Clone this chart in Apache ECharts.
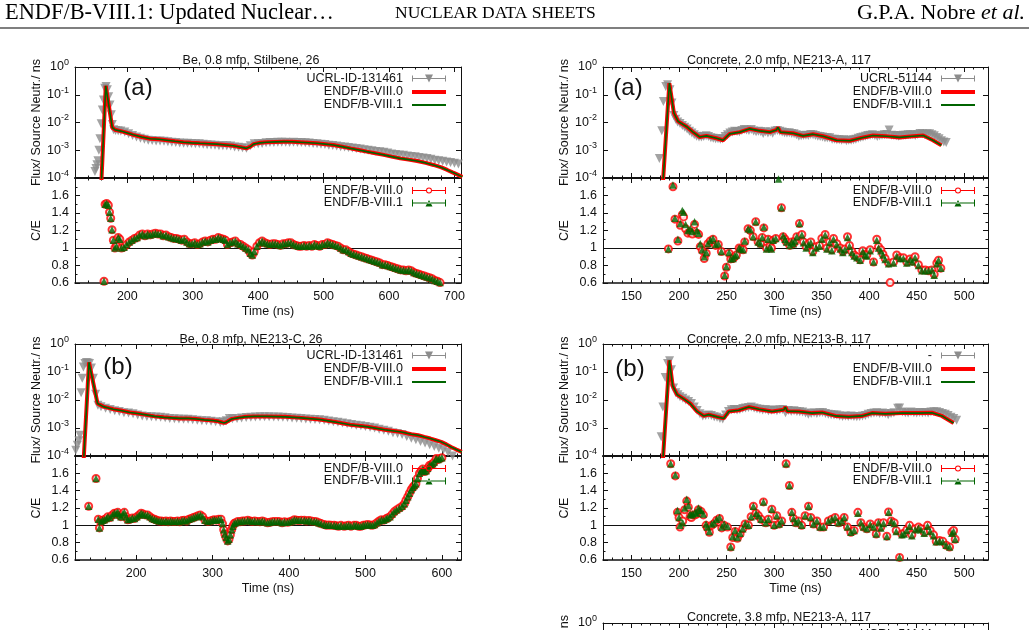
<!DOCTYPE html>
<html lang="en">
<head>
<meta charset="UTF-8">
<title>ENDF/B-VIII.1 neutron time-of-flight benchmarks</title>
<style>
  * { margin: 0; padding: 0; }
  body { background: #fff; }
  #chart { width: 1029px; height: 630px; }
</style>
</head>
<body>
<div id="chart"></div>
<script src="https://cdn.jsdelivr.net/npm/echarts@6.0.0/dist/echarts.min.js"></script>
<script>
// ---------------- data: [time (ns), value] ----------------
// Be, 0.8 mfp, Stilbene
const beStilExp = [[150.5,1.7e-4],[152,2.2e-4],[153.5,3.0e-4],[155,4.2e-4],[156.5,1.0e-3],[158,2.6e-3],[160,9e-3],[161.8,0.028],[163.5,0.065],[165.5,0.17],[167.5,0.2],[169.5,0.15],[171.5,0.085],[173.5,0.043],[175.5,0.019],[177,0.0085],[179,0.0055],[182,0.0052],[186,0.005],[190,0.0049],[196,0.0045],[202,0.0039],[208,0.0034],[214,0.003],[220,0.0027],[226,0.0025],[232,0.0023],[238,0.00224],[244,0.00214],[250,0.00215],[256,0.0021],[262,0.00204],[268,0.00196],[274,0.00189],[280,0.00182],[286,0.00179],[292,0.00178],[298,0.00176],[304,0.00172],[310,0.0017],[316,0.00164],[322,0.00159],[328,0.00156],[334,0.00152],[340,0.00146],[346,0.00144],[352,0.00146],[358,0.00141],[364,0.00132],[370,0.00129],[376,0.00124],[382,0.00117],[388,0.00145],[394,0.00173],[400,0.0017],[406,0.00174],[412,0.00186],[418,0.00189],[424,0.0019],[430,0.00193],[436,0.00193],[442,0.00194],[448,0.00192],[454,0.00193],[460,0.00191],[466,0.0019],[472,0.00187],[478,0.00181],[484,0.00175],[490,0.00173],[496,0.00165],[502,0.00161],[508,0.00152],[514,0.00149],[520,0.00141],[526,0.00135],[532,0.00132],[538,0.00126],[544,0.00121],[550,0.00115],[556,0.0011],[562,0.00105],[568,0.00101],[574,0.00096],[580,0.00091],[586,0.00088],[592,0.00084],[598,0.00079],[604,0.00074],[610,0.0007],[616,0.00068],[622,0.00066],[628,0.00062],[634,0.0006],[640,0.00058],[646,0.00055],[652,0.00053],[658,0.0005],[664,0.00047],[670,0.00044],[676,0.00042],[682,0.0004],[688,0.00038],[694,0.00036],[700,0.00034],[706,0.00032]];
const beStilCalc80 = [[160,5e-5],[167,0.21],[177,0.0065],[181,0.0055],[190,0.0049],[200,0.0042],[209,0.0036],[222,0.003],[235,0.0026],[248,0.0025],[260,0.0023],[273,0.0021],[286,0.00195],[298,0.00185],[311,0.00178],[324,0.00172],[337,0.00166],[350,0.00155],[362,0.00145],[372,0.0013],[382,0.00117],[388,0.00135],[393,0.00166],[403,0.00185],[413,0.00195],[426,0.002],[439,0.00204],[452,0.00202],[464,0.00195],[477,0.00187],[490,0.00178],[503,0.00166],[515,0.00155],[528,0.00135],[541,0.00117],[554,0.00102],[566,0.00089],[579,0.00078],[592,0.00068],[604,0.00059],[617,0.00051],[630,0.00046],[643,0.00041],[656,0.00035],[668,0.000295],[680,0.00024],[689,0.000195],[697,0.00016],[704,0.000135],[712,0.00011]];
const beStilCalc81 = beStilCalc80; // the two evaluations overlap at this scale
const beStilCE80 = [[164.3,0.62],[166,1.5],[168.5,1.51],[171,1.49],[172.8,1.41],[174.6,1.34],[176.6,1.21],[178.6,1.09],[181,1.0],[183.5,1.02],[186,1.12],[188.5,1.1],[191,1.0],[195,1.01],[199,1.04],[203,1.07],[207,1.09],[211,1.11],[215,1.12],[219,1.15],[223,1.16],[227,1.14],[231,1.16],[235,1.15],[239,1.16],[243,1.17],[247,1.16],[251,1.16],[255,1.14],[259,1.15],[263,1.13],[267,1.12],[271,1.11],[275,1.11],[279,1.1],[283,1.09],[287,1.1],[291,1.07],[295,1.05],[299,1.05],[303,1.06],[307,1.04],[311,1.05],[315,1.07],[319,1.08],[323,1.07],[327,1.09],[331,1.1],[335,1.1],[339,1.12],[343,1.11],[347,1.1],[350,1.09],[353,1.04],[357,1.06],[361,1.07],[365,1.08],[369,1.05],[373,1.04],[377,1.02],[381,1.0],[385,0.98],[388,0.94],[391,0.92],[394,0.96],[398,1.02],[402,1.06],[406,1.08],[410,1.06],[414,1.05],[418,1.04],[422,1.05],[426,1.05],[430,1.04],[434,1.03],[438,1.05],[442,1.05],[446,1.06],[450,1.06],[454,1.04],[458,1.03],[462,1.02],[466,1.02],[470,1.03],[474,1.02],[478,1.03],[482,1.02],[486,1.04],[490,1.03],[494,1.02],[498,1.04],[502,1.04],[506,1.06],[510,1.05],[514,1.04],[518,1.03],[522,1.02],[526,1.0],[530,0.98],[534,0.98],[538,0.96],[542,0.94],[546,0.93],[550,0.92],[554,0.91],[558,0.9],[562,0.89],[566,0.88],[570,0.87],[574,0.86],[578,0.85],[582,0.84],[586,0.83],[590,0.81],[594,0.81],[598,0.8],[602,0.79],[606,0.78],[610,0.77],[614,0.76],[618,0.75],[622,0.75],[626,0.74],[630,0.75],[634,0.74],[638,0.72],[642,0.71],[646,0.7],[650,0.69],[654,0.68],[658,0.67],[662,0.66],[666,0.65],[670,0.63],[674,0.62],[678,0.605]];
const beStilCE81 = beStilCE80;

// Be, 0.8 mfp, NE213-C
const beNeExp = [[121,1.6e-4],[123,2.4e-4],[125,3.5e-4],[126.5,5.5e-4],[128,0.018],[129.5,0.06],[131,0.15],[133,0.2],[135,0.22],[137,0.21],[139,0.2],[141.5,0.14],[144,0.06],[147,0.016],[150,0.0065],[154,0.0057],[160,0.0051],[166,0.0046],[172,0.0041],[178,0.0039],[184,0.0035],[190,0.0034],[196,0.0032],[202,0.0029],[208,0.0027],[214,0.0026],[220,0.0025],[226,0.00245],[232,0.0024],[238,0.0023],[244,0.0022],[250,0.00215],[256,0.0021],[262,0.00207],[268,0.00205],[274,0.00197],[280,0.00189],[286,0.00182],[292,0.00181],[298,0.00175],[304,0.00167],[310,0.00156],[314,0.00166],[318,0.00182],[322,0.0022],[326,0.00214],[332,0.0022],[338,0.00229],[344,0.00236],[350,0.00243],[356,0.00248],[362,0.0025],[368,0.00252],[374,0.0025],[380,0.00248],[386,0.00245],[392,0.00243],[398,0.00238],[404,0.00229],[410,0.00222],[416,0.00217],[422,0.0021],[428,0.00205],[434,0.00202],[440,0.00196],[446,0.00188],[452,0.00178],[458,0.00168],[464,0.0016],[470,0.00152],[476,0.00141],[482,0.00132],[488,0.00126],[494,0.0012],[500,0.00113],[506,0.00106],[512,0.001],[518,0.00091],[524,0.00083],[530,0.00077],[536,0.00068],[542,0.00064],[548,0.00058],[554,0.0005],[560,0.00043],[566,0.00038],[572,0.00033],[578,0.00029],[584,0.00025],[590,0.00022],[596,0.00019],[602,0.000168],[608,0.000135],[614,0.0001]];
const beNeCalc80 = [[131,5e-5],[138.3,0.22],[149.5,0.0075],[157,0.0058],[170,0.0047],[180,0.0042],[192,0.0036],[202,0.0033],[211,0.003],[224,0.0026],[236,0.0024],[246,0.0023],[257,0.0022],[268,0.0022],[279,0.0021],[289,0.00195],[300,0.00185],[307,0.00174],[313,0.00158],[316,0.00152],[320,0.00175],[325,0.0021],[333,0.0023],[342,0.0025],[355,0.0026],[370,0.0026],[395,0.0025],[416,0.0023],[440,0.002],[459,0.00166],[480,0.0013],[503,0.0011],[525,0.00087],[547,0.00072],[560,0.0006],[569,0.00055],[577,0.00048],[585,0.00042],[590,0.00038],[599,0.00032],[606,0.00026],[612,0.00021],[619,0.00017],[626,0.00014]];
const beNeCalc81 = beNeCalc80;
const beNeCE80 = [[137.9,1.22],[147.5,1.54],[150.5,1.07],[152,0.97],[154,1.045],[156,1.06],[158.3,1.065],[161,1.08],[163,1.1],[166,1.09],[169,1.12],[171.5,1.14],[174,1.14],[176,1.15],[178,1.12],[180,1.1],[182.5,1.13],[184.5,1.15],[187,1.1],[189,1.065],[192,1.07],[195,1.085],[198,1.08],[201,1.1],[204,1.12],[206.5,1.14],[209,1.13],[212,1.12],[215,1.12],[218,1.1],[221,1.08],[224,1.07],[227,1.06],[230,1.05],[233,1.05],[236,1.045],[239,1.05],[242,1.04],[245,1.05],[248,1.045],[251,1.045],[254,1.05],[257,1.04],[260,1.055],[263,1.06],[266,1.05],[269,1.07],[272,1.08],[275,1.09],[278,1.1],[281,1.11],[284,1.12],[287,1.1],[290,1.06],[293.7,1.045],[297,1.05],[300,1.06],[302.4,1.065],[305,1.06],[308,1.07],[311,1.07],[313,1.02],[314.5,0.95],[316,0.9],[317.6,0.86],[319.8,0.82],[321.5,0.84],[323.3,0.89],[325,0.95],[326.4,0.99],[328,1.02],[330,1.03],[333,1.045],[336,1.04],[339,1.05],[342,1.05],[346,1.06],[349,1.05],[352,1.045],[355,1.05],[359,1.045],[362,1.04],[365,1.05],[368,1.04],[372,1.03],[375,1.035],[378,1.04],[381,1.045],[385,1.045],[388,1.04],[391,1.03],[394,1.04],[398,1.035],[401,1.04],[404,1.05],[407,1.065],[410,1.06],[413,1.055],[416,1.06],[420,1.06],[423,1.05],[426,1.055],[429,1.05],[433,1.045],[436,1.04],[439,1.03],[442,1.02],[446,1.01],[449,1.0],[452,1.005],[455,1.0],[459,1.0],[462,0.995],[465,0.99],[468,1.0],[472,0.99],[475,0.995],[478,1.0],[481,0.99],[485,1.0],[488,1.0],[491,0.99],[494,0.99],[497,1.0],[500,1.005],[503,1.01],[506,1.005],[509,1.0],[512,1.01],[515,1.03],[518,1.05],[521,1.065],[524,1.06],[527,1.075],[529,1.085],[532,1.1],[535,1.13],[538,1.16],[541,1.18],[544.5,1.2],[548,1.22],[551,1.25],[553,1.29],[555.4,1.33],[557.5,1.37],[559.8,1.41],[562,1.44],[564,1.46],[566,1.48],[568,1.54],[570.6,1.6],[573,1.63],[575,1.65],[577,1.62],[579.4,1.63],[581.5,1.66],[583.7,1.69],[586,1.7],[588,1.71],[590,1.73],[592.5,1.77],[595,1.76],[597,1.77],[600,1.78]];
const beNeCE81 = beNeCE80;

// Concrete, 2.0 mfp, NE213-A
const conAExp = [[179.3,5e-4],[181.8,0.005],[183.5,0.057],[186,0.2],[188,0.23],[190.5,0.15],[192.5,0.05],[194.5,0.018],[196.5,0.013],[198.5,0.0105],[201,0.0092],[203.5,0.0078],[206,0.0068],[208.5,0.0058],[211,0.0048],[213.5,0.0042],[216,0.0036],[218.5,0.0032],[221,0.003],[223.5,0.003],[226,0.0031],[228.5,0.0033],[231,0.0031],[233.5,0.0028],[236,0.0027],[238.5,0.0026],[241,0.0026],[243.5,0.0025],[246,0.0026],[248.5,0.0031],[251,0.0036],[253.5,0.0042],[256,0.0045],[258.5,0.0048],[261,0.0047],[263.5,0.0046],[266,0.0052],[268.5,0.0056],[271,0.0054],[273.5,0.0052],[276,0.0056],[278.5,0.0049],[281,0.0046],[283.5,0.0048],[286,0.0046],[288.5,0.004],[291,0.0046],[293.5,0.0042],[296,0.0045],[298.5,0.0041],[301,0.0049],[303.5,0.0052],[306,0.0048],[308.5,0.0045],[311,0.0043],[313.5,0.0042],[316,0.0043],[318.5,0.004],[321,0.0039],[323.5,0.0036],[326,0.0032],[328.5,0.0033],[331,0.0034],[333.5,0.0035],[336,0.0034],[338.5,0.0037],[341,0.0036],[343.5,0.0034],[346,0.0032],[348.5,0.0031],[351,0.003],[353.5,0.0028],[356,0.0028],[358.5,0.0028],[361,0.0025],[363.5,0.0025],[366,0.0024],[368.5,0.0024],[371,0.0023],[373.5,0.0024],[376,0.0022],[378.5,0.0023],[381,0.0023],[383.5,0.0024],[386,0.0025],[388.5,0.0027],[391,0.0029],[393.5,0.003],[396,0.0032],[398.5,0.0034],[401,0.0035],[403.5,0.0036],[406,0.0034],[408.5,0.0031],[411,0.0033],[413.5,0.0035],[416,0.0036],[418.5,0.0037],[421,0.0054],[423.5,0.0035],[426,0.0034],[428.5,0.0033],[431,0.0032],[433.5,0.0034],[436,0.0035],[438.5,0.0035],[441,0.0036],[443.5,0.0036],[446,0.0036],[448.5,0.0034],[451,0.0037],[453.5,0.004],[456,0.0039],[458.5,0.0037],[461,0.0039],[463.5,0.0039],[466,0.0036],[468.5,0.0033],[471,0.0029],[473.5,0.0026],[476,0.0022],[478.5,0.002],[481,0.0019]];
const conACalc80 = [[182.8,5e-5],[189.8,0.26],[194.6,0.022],[199,0.011],[207.7,0.0072],[214.7,0.0045],[221.8,0.003],[228.8,0.0033],[239.3,0.0027],[246.3,0.0023],[253.3,0.0039],[263.9,0.0045],[274.4,0.0059],[284.9,0.005],[295.4,0.0045],[302.5,0.0054],[304,0.0066],[306.7,0.0045],[320,0.0041],[330.5,0.0033],[341,0.0038],[351.6,0.0032],[365.6,0.0023],[379.6,0.0022],[393.7,0.0029],[404,0.0034],[418,0.0032],[432,0.0029],[446,0.0032],[456.8,0.0034],[467,0.0023],[476,0.0015]];
const conACalc81 = conACalc80;
const conACE80 = [[188.8,0.99],[193.6,1.7],[195.7,1.33],[198.8,1.08],[201.3,1.26],[203.4,1.38],[204.8,1.355],[206.9,1.22],[209.3,1.17],[211.8,1.18],[214,1.16],[216.3,1.27],[218.8,1.17],[220.6,1.155],[222.3,1.015],[224.4,0.97],[226.5,0.88],[228.6,0.94],[230.4,1.05],[232.9,1.08],[235.7,1.1],[238.5,1.03],[241.3,1.04],[244.5,0.96],[248,0.68],[249.8,0.78],[252.6,0.94],[254.4,0.875],[256.8,0.88],[258.5,0.9],[260.3,0.92],[263.2,1.0],[265,0.99],[267.4,0.98],[269.1,1.07],[272.6,1.22],[275,1.2],[277.9,1.13],[280.7,1.3],[283.2,1.07],[285.7,1.05],[287.5,1.12],[289.2,1.23],[292,1.0],[293.7,1.1],[295.5,1.02],[297.2,1.0],[299,1.09],[301.8,1.11],[307.7,1.46],[309.5,1.13],[311.5,1.1],[313,1.07],[316.5,1.03],[318.6,1.07],[320.3,1.05],[322,1.08],[323.9,1.13],[326.7,1.28],[329.2,1.155],[330.9,1.07],[333.7,1.015],[336.2,1.05],[338.6,1.07],[340.7,0.96],[344.2,1.015],[347.7,1.03],[350.2,1.11],[353.7,1.155],[355.5,1.0],[358.3,1.07],[360.7,0.98],[362.5,1.11],[366,1.05],[369.5,1.0],[372.3,0.96],[374.5,0.99],[377.2,1.13],[379.3,1.03],[381.8,0.96],[384.2,0.92],[387,0.9],[390.5,0.865],[393.3,0.97],[395.5,0.93],[397.5,0.92],[401,0.98],[404.6,0.84],[408,1.1],[409.8,1.015],[412.3,0.98],[414.5,0.93],[416.8,0.88],[420.4,0.83],[422,0.605],[425.6,0.84],[429,0.92],[432.6,0.89],[436,0.89],[439.6,0.84],[443,0.875],[445.5,0.85],[448.3,0.9],[451.8,0.81],[455.4,0.75],[458.9,0.75],[462.5,0.74],[466,0.75],[468.4,0.7],[471.2,0.83],[473,0.86],[475.4,0.77]];
const conACE81 = [[188.8,0.99],[193.6,1.72],[195.7,1.34],[198.8,1.1],[201.3,1.28],[203.4,1.43],[204.8,1.41],[206.9,1.27],[209.3,1.2],[211.8,1.22],[214,1.19],[216.3,1.3],[218.8,1.2],[220.6,1.17],[222.3,1.05],[224.4,0.98],[226.5,0.9],[228.6,0.95],[230.4,1.05],[232.9,1.09],[235.7,1.11],[238.5,1.04],[241.3,1.05],[244.5,0.96],[248,0.69],[249.8,0.79],[252.6,0.95],[254.4,0.875],[256.8,0.88],[258.5,0.91],[260.3,0.92],[263.2,1.0],[265,0.99],[267.4,0.98],[269.1,1.08],[272.6,1.22],[275,1.21],[277.9,1.13],[280.7,1.3],[283.2,1.07],[285.7,1.05],[287.5,1.12],[289.2,1.24],[292,0.99],[293.7,1.1],[295.5,1.01],[297.2,0.99],[299,1.09],[301.8,1.11],[304.6,1.79],[307.7,1.46],[309.5,1.14],[311.5,1.1],[313,1.07],[316.5,1.03],[318.6,1.07],[320.3,1.05],[322,1.08],[323.9,1.13],[326.7,1.28],[329.2,1.15],[330.9,1.06],[333.7,1.0],[336.2,1.04],[338.6,1.06],[340.7,0.95],[344.2,1.0],[347.7,1.02],[350.2,1.1],[353.7,1.15],[355.5,0.99],[358.3,1.06],[360.7,0.97],[362.5,1.1],[366,1.04],[369.5,0.99],[372.3,0.95],[374.5,0.98],[377.2,1.12],[379.3,1.02],[381.8,0.95],[384.2,0.91],[387,0.89],[390.5,0.86],[393.3,0.96],[395.5,0.92],[397.5,0.91],[401,0.97],[404.6,0.84],[408,1.09],[409.8,1.0],[412.3,0.97],[414.5,0.92],[416.8,0.87],[420.4,0.82],[425.6,0.83],[429,0.91],[432.6,0.88],[436,0.88],[439.6,0.83],[443,0.87],[445.5,0.84],[448.3,0.89],[451.8,0.8],[455.4,0.74],[458.9,0.74],[462.5,0.74],[466,0.75],[468.4,0.69],[471.2,0.82],[473,0.86],[475.4,0.77]];

// Concrete, 2.0 mfp, NE213-B
const conBExp = [[181.2,4.9e-4],[183,0.0056],[185.4,0.063],[187.9,0.2],[190,0.25],[192,0.12],[194.2,0.027],[196.5,0.018],[198.8,0.0155],[201,0.013],[204,0.0115],[207,0.01],[210,0.0089],[213,0.0075],[216,0.0056],[219,0.0042],[222,0.0032],[225,0.0027],[228,0.0028],[231,0.0029],[234,0.0028],[237,0.0025],[240,0.0024],[243,0.0022],[246,0.0021],[249,0.0029],[252,0.0039],[255,0.0045],[258,0.0046],[261,0.0044],[264,0.0046],[267,0.005],[270,0.0052],[273,0.0054],[276,0.0056],[279,0.0052],[282,0.0049],[285,0.0047],[288,0.0044],[291,0.0046],[294,0.0041],[297,0.0043],[300,0.0044],[303,0.0041],[306,0.0045],[309,0.0046],[312,0.0035],[315,0.0042],[318,0.004],[321,0.0041],[324,0.0039],[327,0.0038],[330,0.0037],[333,0.0034],[336,0.0031],[339,0.0033],[342,0.0035],[345,0.0033],[348,0.0035],[351,0.0036],[354,0.0033],[357,0.0031],[360,0.003],[363,0.0029],[366,0.0029],[369,0.0027],[372,0.0026],[375,0.0027],[378,0.0026],[381,0.0027],[384,0.0026],[387,0.0025],[390,0.0026],[393,0.0027],[396,0.0028],[399,0.0031],[402,0.0033],[405,0.0034],[408,0.0035],[411,0.0033],[414,0.0034],[417,0.0033],[420,0.003],[423,0.0033],[426,0.0035],[430,0.0051],[432,0.0052],[435,0.0037],[438,0.0035],[441,0.0034],[444,0.0037],[447,0.0035],[450,0.0034],[453,0.0036],[456,0.0035],[459,0.0036],[462,0.0034],[465,0.0037],[468,0.0038],[471,0.0038],[474,0.0036],[477,0.0033],[480,0.0031],[483,0.0028],[486,0.0024],[489,0.0022],[492,0.0019]];
const conBCalc80 = [[182.7,5e-5],[189.8,0.26],[193.3,0.032],[197.9,0.0155],[204.9,0.011],[211.9,0.0074],[218.9,0.0039],[225.9,0.0027],[231.2,0.003],[240,0.0025],[247,0.0022],[252.3,0.0039],[262.8,0.0043],[273.3,0.0056],[283.9,0.0047],[297.9,0.0039],[310.2,0.0045],[311.9,0.0056],[313.7,0.004],[326,0.0039],[340,0.0034],[350.5,0.0036],[364.6,0.0027],[378.6,0.0025],[392.6,0.0027],[403,0.0034],[417,0.0032],[434.6,0.0034],[452,0.0034],[466,0.0035],[476.5,0.0027],[488.8,0.0015]];
const conBCalc81 = conBCalc80;
const conBCE80 = [[191.2,1.71],[196.1,1.57],[198.3,1.15],[200,1.09],[201,0.98],[203.9,1.05],[206,1.18],[208.1,1.28],[209.8,1.21],[211.6,1.1],[213,1.09],[214.4,1.12],[216.8,1.12],[218.5,1.13],[220.4,1.18],[222,1.15],[223.2,1.16],[225.6,1.12],[228.4,1.0],[229.8,0.97],[231.9,0.92],[234.4,1.0],[236.8,1.02],[239.6,1.06],[242.5,1.08],[244.9,0.97],[247.4,1.0],[250.9,0.98],[254.4,0.75],[256.5,0.86],[259,0.93],[261.4,0.85],[264.2,0.9],[267,0.96],[269.5,1.015],[273,1.0],[275.8,1.1],[278.2,1.22],[281,1.14],[283.5,1.11],[286.3,1.07],[288.8,1.27],[291.2,1.03],[294,1.07],[297.6,1.185],[300,1.0],[302.8,1.11],[305.3,1.015],[308,1.05],[312.6,1.71],[316.1,1.46],[318.6,1.15],[320.4,1.08],[323,1.03],[325.6,1.05],[329,1.0],[332.6,1.11],[336.2,1.22],[338.6,1.09],[341.4,1.015],[345,1.05],[348.4,0.98],[352,0.98],[357.1,1.05],[360.7,1.07],[364.2,1.09],[367.7,1.03],[371.2,1.05],[373.7,1.09],[377.2,0.98],[380.7,0.92],[384.2,0.94],[388.1,1.15],[391.3,1.03],[394.1,0.98],[397.6,0.96],[401.1,1.015],[404.6,0.98],[407.4,0.9],[409.8,1.03],[412.3,0.98],[415.1,1.03],[418.6,0.875],[420.4,1.155],[423.2,1.05],[426.3,1.03],[428.4,0.94],[432,0.63],[434.4,0.9],[436.8,0.91],[439.6,0.95],[442.5,1.0],[444.9,0.89],[448.4,0.96],[451.9,0.98],[454.4,0.96],[457.9,0.92],[461.4,1.0],[464.2,0.94],[467.7,0.89],[470.5,0.815],[474,0.825],[477.5,0.815],[481,0.77],[484.6,0.75],[487,0.92],[488.8,0.94],[490.5,0.84]];
const conBCE81 = [[191.2,1.71],[196.1,1.58],[198.3,1.17],[200,1.09],[201,1.0],[203.9,1.03],[206,1.2],[208.1,1.3],[209.8,1.23],[211.6,1.13],[213,1.12],[214.4,1.13],[216.8,1.15],[218.5,1.14],[220.4,1.2],[222,1.17],[223.2,1.17],[225.6,1.13],[228.4,1.015],[229.8,0.98],[231.9,0.93],[234.4,1.015],[236.8,1.03],[239.6,1.07],[242.5,1.09],[244.9,0.98],[247.4,1.015],[250.9,0.99],[254.4,0.75],[256.5,0.87],[259,0.94],[261.4,0.86],[264.2,0.91],[267,0.96],[269.5,1.02],[273,1.0],[275.8,1.1],[278.2,1.22],[281,1.14],[283.5,1.11],[286.3,1.07],[288.8,1.27],[291.2,1.03],[294,1.07],[297.6,1.185],[300,1.0],[302.8,1.11],[305.3,1.015],[308,1.05],[312.6,1.71],[316.1,1.46],[318.6,1.15],[320.4,1.08],[323,1.03],[325.6,1.05],[329,1.0],[332.6,1.11],[336.2,1.22],[338.6,1.09],[341.4,1.015],[345,1.05],[348.4,0.98],[352,0.98],[357.1,1.05],[360.7,1.07],[364.2,1.09],[367.7,1.03],[371.2,1.05],[373.7,1.09],[377.2,0.98],[380.7,0.92],[384.2,0.94],[388.1,1.14],[391.3,1.03],[394.1,0.98],[397.6,0.96],[401.1,1.01],[404.6,0.98],[407.4,0.9],[409.8,1.03],[412.3,0.97],[415.1,1.02],[418.6,0.87],[420.4,1.15],[423.2,1.05],[426.3,1.02],[428.4,0.93],[432,0.63],[434.4,0.89],[436.8,0.9],[439.6,0.94],[442.5,0.99],[444.9,0.88],[448.4,0.95],[451.9,0.97],[454.4,0.95],[457.9,0.91],[461.4,0.99],[464.2,0.93],[467.7,0.88],[470.5,0.81],[474,0.82],[477.5,0.81],[481,0.77],[484.6,0.75],[487,0.91],[488.8,0.93],[490.5,0.84]];

// ---------------- style ----------------
const W = 1029;
const FONT = '"Liberation Sans", Arial, sans-serif';
const SERIF = '"Liberation Serif", "Times New Roman", serif';
const INK = '#111';
const RED = '#ff0000';
const GREEN = '#006400';
const GREY = '#8c8c8c';
const FS = 12.5;

const grid = [], xAxis = [], yAxis = [], series = [], legend = [], graphic = [];

const ICON_EXP = 'path://M0,1.5H1V7.5H0Z M33,1.5H34V7.5H33Z M0,4H34V5H0Z M13,0.5H21L17,8.5Z';
const ICON_CE80 = 'path://M0,1H1V8H0Z M33,1H34V8H33Z M0,4H14V5H0Z M20,4H34V5H20Z M20,4.5A3,3,0,1,1,14,4.5A3,3,0,1,1,20,4.5Z M19,4.5A2,2,0,1,0,15,4.5A2,2,0,1,0,19,4.5Z';
const ICON_CE81 = 'path://M0,1H1V8H0Z M33,1H34V8H33Z M0,4H34V5H0Z M13.5,8H20.5L17,1.5Z';

function addGrid(left, top, width, height) {
  grid.push({ left, top, width, height, containLabel: false, outerBoundsMode: 'none' });
  return grid.length - 1;
}

// bottom axis + mirrored top axis (gnuplot style closed frame)
function addX(gi, xr, withLabels, bottomWidth) {
  const base = {
    gridIndex: gi, type: 'value', min: xr.min, max: xr.max,
    minInterval: xr.step, maxInterval: xr.step,
    splitLine: { show: false },
    axisTick: { inside: true, length: 5, lineStyle: { color: INK } },
    minorTick: { show: true, splitNumber: 5, length: 2.5, lineStyle: { color: INK } }
  };
  xAxis.push(Object.assign({}, base, {
    position: 'bottom',
    axisLine: { lineStyle: { color: INK, width: bottomWidth } },
    axisLabel: withLabels
      ? { margin: 7, fontSize: FS, fontFamily: FONT, color: INK, lineHeight: 14, showMinLabel: false, showMaxLabel: false }
      : { show: false },
    name: withLabels ? 'Time (ns)' : '',
    nameLocation: 'middle', nameGap: 22,
    nameTextStyle: { fontSize: FS, fontFamily: FONT, color: INK }
  }));
  xAxis.push(Object.assign({}, base, {
    position: 'top',
    axisLine: { lineStyle: { color: INK, width: 1 } },
    axisLabel: { show: false }
  }));
  return xAxis.length - 2;
}

function addY(gi, kind) {
  const tick = { inside: true, length: 5, lineStyle: { color: INK } };
  let base, label, name;
  if (kind === 'log') {
    base = { type: 'log', logBase: 10, min: 1e-4, max: 1, splitNumber: 4 };
    label = {
      margin: 6, fontSize: FS, fontFamily: FONT, color: INK, lineHeight: 18,
      formatter: v => '10{e|' + Math.round(Math.log10(v)) + '}',
      rich: { e: { fontSize: 9, lineHeight: 10, verticalAlign: 'top', fontFamily: FONT, color: INK } }
    };
    name = 'Flux/ Source Neutr./ ns';
  } else {
    base = {
      type: 'value', min: 0.6, max: 1.8, interval: 0.2,
      minorTick: { show: true, splitNumber: 2, length: 2.5, lineStyle: { color: INK } }
    };
    label = { margin: 6, fontSize: FS, fontFamily: FONT, color: INK, showMaxLabel: false };
    name = 'C/E';
  }
  yAxis.push(Object.assign({}, base, {
    gridIndex: gi, position: 'left', splitLine: { show: false }, axisTick: tick,
    axisLine: { lineStyle: { color: INK, width: 1 } }, axisLabel: label,
    name, nameLocation: 'middle', nameGap: 32,
    nameTextStyle: { fontSize: FS, fontFamily: FONT, color: INK }
  }));
  yAxis.push(Object.assign({}, base, {
    gridIndex: gi, position: 'right', splitLine: { show: false }, axisTick: tick,
    axisLine: { lineStyle: { color: INK, width: 1 } }, axisLabel: { show: false }
  }));
  return yAxis.length - 2;
}

function legendRow(seriesName, text, icon, color, ih, cy, iconRight) {
  legend.push({
    orient: 'vertical', align: 'right', selectedMode: false, padding: 0,
    right: W - iconRight, top: cy - 7,
    itemWidth: 34, itemHeight: ih, itemGap: 0,
    data: [{ name: seriesName, icon, itemStyle: { color, borderWidth: 0, opacity: 1 } }],
    formatter: () => text,
    textStyle: { fontSize: FS, fontFamily: FONT, color: INK, lineHeight: 14, padding: [0, 4, 0, 0] }
  });
}

function addText(x, y, text, size) {
  graphic.push({
    type: 'text', x, y, z: 10,
    style: { text, fontSize: size, fontFamily: FONT, fill: INK, align: 'center', verticalAlign: 'middle' }
  });
}

function addPanel(p) {
  // upper: flux on log scale
  const gT = addGrid(p.left, p.top, p.width, p.topH);
  const xT = addX(gT, p.x, false, p.botH ? 2 : 1);
  const yT = addY(gT, 'log');
  const id = p.id;
  series.push({
    name: id + '-exp', type: 'scatter', xAxisIndex: xT, yAxisIndex: yT, data: p.exp,
    symbol: 'triangle', symbolRotate: 180, symbolSize: 9, itemStyle: { color: GREY }, z: 2
  });
  legendRow(id + '-exp', p.expLabel, ICON_EXP, GREY, 9, p.top + 11.5, p.iconRight);
  addText(p.titleX, p.titleY, p.title, FS);
  if (!p.botH) return;

  series.push({
    name: id + '-c80', type: 'line', xAxisIndex: xT, yAxisIndex: yT, data: p.calc80,
    showSymbol: false, symbol: 'none', lineStyle: { color: RED, width: 4 }, itemStyle: { color: RED }, z: 3
  });
  series.push({
    name: id + '-c81', type: 'line', xAxisIndex: xT, yAxisIndex: yT, data: p.calc81,
    showSymbol: false, symbol: 'none', lineStyle: { color: GREEN, width: 1.6 }, itemStyle: { color: GREEN }, z: 4
  });
  legendRow(id + '-c80', 'ENDF/B-VIII.0', 'rect', RED, 4, p.top + 25, p.iconRight);
  legendRow(id + '-c81', 'ENDF/B-VIII.1', 'rect', GREEN, 2, p.top + 38, p.iconRight);
  addText(p.tagX, p.tagY, p.tag, 24);

  // lower: calculation / experiment
  const bTop = p.top + p.topH;
  const gB = addGrid(p.left, bTop, p.width, p.botH);
  const xB = addX(gB, p.x, true, 1.5);
  const yB = addY(gB, 'ce');
  series.push({
    name: id + '-r80', type: 'scatter', xAxisIndex: xB, yAxisIndex: yB, data: p.ce80,
    symbol: 'emptyCircle', symbolSize: 7, itemStyle: { color: RED, borderWidth: 1.5 }, z: 2,
    markLine: {
      silent: true, symbol: 'none', z: 1, animation: false,
      label: { show: false }, lineStyle: { color: INK, width: 1, type: 'solid' },
      data: [{ yAxis: 1 }]
    }
  });
  series.push({
    name: id + '-r81', type: 'scatter', xAxisIndex: xB, yAxisIndex: yB, data: p.ce81,
    symbol: 'triangle', symbolSize: 7.5, itemStyle: { color: GREEN }, z: 3
  });
  legendRow(id + '-r80', 'ENDF/B-VIII.0', ICON_CE80, RED, 8, bTop + 12.5, p.iconRight);
  legendRow(id + '-r81', 'ENDF/B-VIII.1', ICON_CE81, GREEN, 8, bTop + 25, p.iconRight);
}

const xBe1 = { min: 120, max: 710, step: 100 };
const xBe2 = { min: 120, max: 625, step: 100 };
const xCon = { min: 120, max: 525, step: 50 };

addPanel({ id: 'p1', left: 75, width: 386, top: 67, topH: 111, botH: 105, x: xBe1,
  title: 'Be, 0.8 mfp, Stilbene, 26', titleX: 251, titleY: 61, tag: '(a)', tagX: 138, tagY: 88,
  exp: beStilExp, expLabel: 'UCRL-ID-131461', calc80: beStilCalc80, calc81: beStilCalc81,
  ce80: beStilCE80, ce81: beStilCE81, iconRight: 446 });
addPanel({ id: 'p2', left: 603, width: 385, top: 67, topH: 111, botH: 105, x: xCon,
  title: 'Concrete, 2.0 mfp, NE213-A, 117', titleX: 779, titleY: 61, tag: '(a)', tagX: 628, tagY: 88,
  exp: conAExp, expLabel: 'UCRL-51144', calc80: conACalc80, calc81: conACalc81,
  ce80: conACE80, ce81: conACE81, iconRight: 975 });
addPanel({ id: 'p3', left: 75, width: 386, top: 344, topH: 112, botH: 104, x: xBe2,
  title: 'Be, 0.8 mfp, NE213-C, 26', titleX: 251, titleY: 340, tag: '(b)', tagX: 118, tagY: 367,
  exp: beNeExp, expLabel: 'UCRL-ID-131461', calc80: beNeCalc80, calc81: beNeCalc81,
  ce80: beNeCE80, ce81: beNeCE81, iconRight: 446 });
addPanel({ id: 'p4', left: 603, width: 385, top: 344, topH: 112, botH: 104, x: xCon,
  title: 'Concrete, 2.0 mfp, NE213-B, 117', titleX: 779, titleY: 340, tag: '(b)', tagX: 630, tagY: 369,
  exp: conBExp, expLabel: '-', calc80: conBCalc80, calc81: conBCalc81,
  ce80: conBCE80, ce81: conBCE81, iconRight: 975 });
// next panel, cut off by the page edge
addPanel({ id: 'p5', left: 603, width: 385, top: 623, topH: 111, botH: 0, x: xCon,
  title: 'Concrete, 3.8 mfp, NE213-A, 117', titleX: 779, titleY: 617.5,
  exp: [], expLabel: 'UCRL-51144', iconRight: 975 });

// running head
graphic.push({ type: 'text', x: 5, y: 13, style: { text: 'ENDF/B-VIII.1: Updated Nuclear…', fontSize: 22.4, fontFamily: SERIF, fill: '#000', verticalAlign: 'middle' } });
graphic.push({ type: 'text', x: 395, y: 13.5, style: { text: 'NUCLEAR DATA SHEETS', fontSize: 17.5, fontFamily: SERIF, fill: '#000', verticalAlign: 'middle' } });
graphic.push({ type: 'text', x: 1025, y: 13, style: {
  text: '{r|G.P.A. Nobre }{i|et al.}', align: 'right', verticalAlign: 'middle',
  rich: { r: { fontSize: 22, fontFamily: SERIF, fill: '#000' }, i: { fontSize: 22, fontFamily: SERIF, fontStyle: 'italic', fill: '#000' } }
} });
graphic.push({ type: 'line', shape: { x1: 0, y1: 28, x2: W, y2: 28 }, style: { stroke: '#000', lineWidth: 1.2 } });

const chart = echarts.init(document.getElementById('chart'));
chart.setOption({
  animation: false,
  backgroundColor: '#fff',
  grid, xAxis, yAxis, series, legend,
  graphic: { elements: graphic }
});
</script>
</body>
</html>
